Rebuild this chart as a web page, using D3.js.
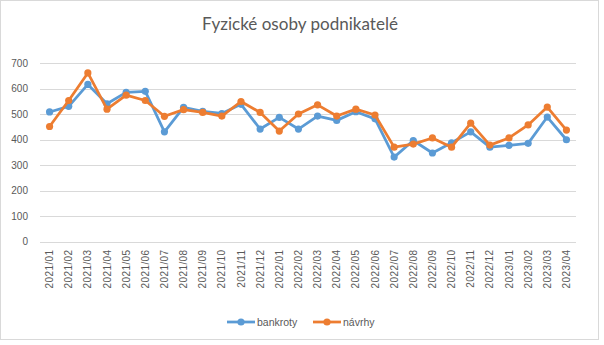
<!DOCTYPE html>
<html>
<head>
<meta charset="utf-8">
<script src="https://cdn.jsdelivr.net/npm/d3@7"></script>
<style>
  html, body { margin: 0; padding: 0; background: #fff; }
  svg { display: block; font-family: "Liberation Sans", Arial, sans-serif; }
</style>
</head>
<body>
<svg id="chart" width="604" height="345"></svg>
<script>
// Monthly counts for sole traders: bankruptcies declared vs. petitions filed
const months = [
  "2021/01","2021/02","2021/03","2021/04","2021/05","2021/06","2021/07","2021/08",
  "2021/09","2021/10","2021/11","2021/12","2022/01","2022/02","2022/03","2022/04",
  "2022/05","2022/06","2022/07","2022/08","2022/09","2022/10","2022/11","2022/12",
  "2023/01","2023/02","2023/03","2023/04"
];
const bankroty = [508, 530, 616, 540, 585, 589, 430, 526, 510, 502, 538, 441, 487, 441,
                  492, 475, 509, 481, 331, 396, 347, 387, 430, 370, 377, 385, 488, 399];
const navrhy   = [451, 553, 661, 519, 574, 553, 491, 517, 506, 492, 549, 506, 433, 500,
                  536, 492, 519, 496, 370, 382, 406, 370, 464, 378, 406, 457, 527, 437];
const yTicks = [0, 100, 200, 300, 400, 500, 600, 700];

const seriesList = [
  { name: "bankroty", values: bankroty, color: "#5B9BD5" },
  { name: "návrhy",   values: navrhy,   color: "#ED7D31" }
];

const svg = d3.select("#chart");

// Outer chart frame
svg.append("rect")
  .attr("x", 0.5).attr("y", 0.5)
  .attr("width", 598).attr("height", 339)
  .attr("fill", "#fff").attr("stroke", "#d9d9d9");

const plot = { left: 40, right: 576, top: 63, bottom: 241.5 };

const x = d3.scaleBand().domain(months).range([plot.left, plot.right]);
const y = d3.scaleLinear().domain([0, 700]).range([plot.bottom, plot.top]);

// Title, sized to span about 196px
const title = svg.append("text")
  .attr("x", 300).attr("y", 30)
  .attr("text-anchor", "middle")
  .attr("font-family", "Lato, 'Liberation Sans', sans-serif")
  .attr("font-size", 17)
  .attr("fill", "#595959")
  .text("Fyzické osoby podnikatelé");
const tw = title.node().getComputedTextLength();
if (tw > 0) title.attr("font-size", Math.min(20, 17 * 196 / tw));

// Horizontal gridlines
svg.append("g")
  .selectAll("line")
  .data(yTicks)
  .join("line")
  .attr("x1", plot.left).attr("x2", plot.right)
  .attr("y1", d => Math.round(y(d)) + 0.5)
  .attr("y2", d => Math.round(y(d)) + 0.5)
  .attr("stroke", "#d9d9d9").attr("stroke-width", 1);

// Y axis labels
const yAxis = d3.axisLeft(y).tickValues(yTicks).tickSize(0).tickPadding(12);
svg.append("g")
  .attr("transform", `translate(${plot.left},0)`)
  .call(yAxis)
  .call(g => g.select(".domain").remove())
  .call(g => g.selectAll("text")
    .attr("font-size", 10).attr("fill", "#595959")
    .attr("font-family", "Liberation Sans, Arial, sans-serif"));

// X axis labels, rotated
const xAxis = d3.axisBottom(x).tickSize(0).tickPadding(0);
svg.append("g")
  .attr("transform", `translate(0,${plot.bottom})`)
  .call(xAxis)
  .call(g => g.select(".domain").remove())
  .call(g => g.selectAll("text")
    .attr("font-size", 10).attr("fill", "#595959")
    .attr("font-family", "Liberation Sans, Arial, sans-serif")
    .attr("text-anchor", "end")
    .attr("letter-spacing", 0.4)
    .attr("dy", "0.35em")
    .attr("transform", "translate(0,8) rotate(-90)")
    .attr("x", 0).attr("y", 0));

// Series lines and markers
const line = d3.line()
  .x((d, i) => x(months[i]) + x.bandwidth() / 2)
  .y(d => y(d));

seriesList.forEach(s => {
  const g = svg.append("g");
  g.append("path")
    .datum(s.values)
    .attr("d", line)
    .attr("fill", "none")
    .attr("stroke", s.color)
    .attr("stroke-width", 2.75)
    .attr("stroke-linejoin", "round")
    .attr("stroke-linecap", "round");
  g.selectAll("circle")
    .data(s.values)
    .join("circle")
    .attr("cx", (d, i) => x(months[i]) + x.bandwidth() / 2)
    .attr("cy", d => y(d))
    .attr("r", 3.6)
    .attr("fill", s.color);
});

// Legend
const legend = svg.append("g").attr("transform", "translate(0,322)");
const legendItems = [
  { s: seriesList[0], x0: 227, tx: 257 },
  { s: seriesList[1], x0: 313, tx: 343 }
];
legendItems.forEach(it => {
  legend.append("line")
    .attr("x1", it.x0).attr("x2", it.x0 + 28)
    .attr("y1", 0).attr("y2", 0)
    .attr("stroke", it.s.color).attr("stroke-width", 2.75);
  legend.append("circle")
    .attr("cx", it.x0 + 14).attr("cy", 0).attr("r", 3.6)
    .attr("fill", it.s.color);
  legend.append("text")
    .attr("x", it.tx).attr("y", 0).attr("dy", "0.35em")
    .attr("font-size", 10.5).attr("fill", "#595959")
    .text(it.s.name);
});
</script>
</body>
</html>
